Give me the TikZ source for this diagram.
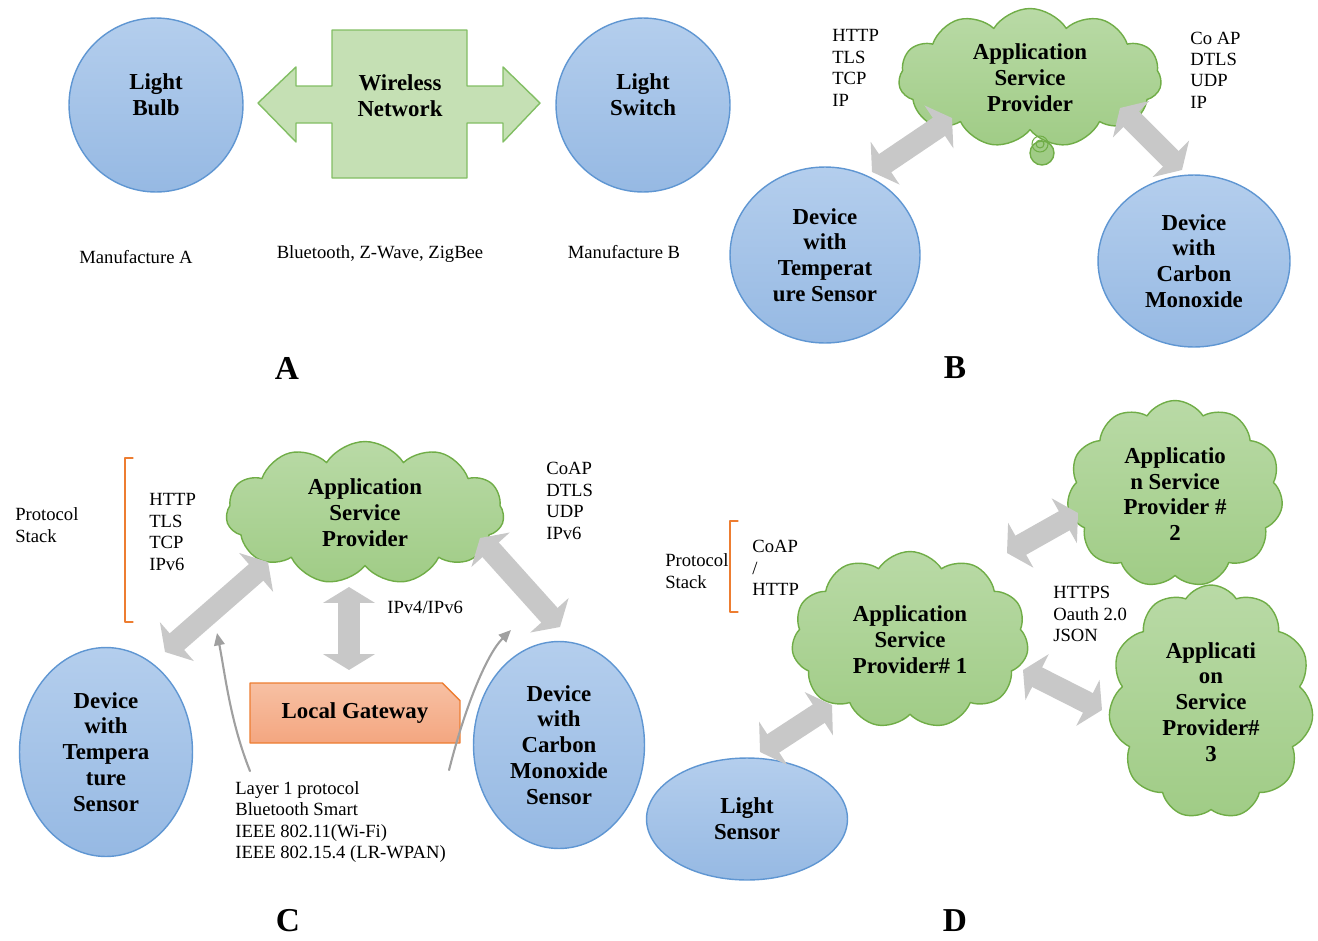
\documentclass[tikz,border=0pt]{standalone}
\usepackage{fontspec}
\setmainfont{Liberation Serif}
\usetikzlibrary{shapes.geometric,shapes.symbols,shapes.misc,arrows.meta,calc}
\definecolor{bluetop}{RGB}{180,206,237}
\definecolor{bluebot}{RGB}{150,185,227}
\definecolor{bluedraw}{RGB}{95,150,210}
\definecolor{greentop}{RGB}{185,218,166}
\definecolor{greenbot}{RGB}{160,204,134}
\definecolor{greendraw}{RGB}{112,173,71}
\definecolor{wnetfill}{RGB}{197,224,180}
\definecolor{wnetdraw}{RGB}{130,190,100}
\definecolor{fatgray}{RGB}{200,200,200}
\definecolor{curvegray}{RGB}{160,160,160}
\definecolor{orangedraw}{RGB}{237,125,49}
\definecolor{gatetop}{RGB}{247,192,163}
\definecolor{gatebot}{RGB}{244,166,128}

\begin{document}
\begin{tikzpicture}[x=0.02cm, y=-0.02cm, line join=round, line cap=round,
	txt/.style={font=\fontsize{10.6}{12.2}\selectfont, align=left, inner sep=0pt},
	boldtxt/.style={font=\fontsize{13}{14.7}\selectfont\bfseries, align=center, inner sep=0pt},
	letter/.style={font=\fontsize{19}{22}\selectfont\bfseries, inner sep=0pt},
	bubble/.style={ellipse, draw=bluedraw, line width=0.8pt, top color=bluetop, bottom color=bluebot, boldtxt},
	puff/.style={cloud, cloud puffs=11, cloud puff arc=115, cloud ignores aspect, draw=greendraw, line width=0.8pt, top color=greentop, bottom color=greenbot, boldtxt},
	gateway/.style={chamfered rectangle, chamfered rectangle corners=north east, chamfered rectangle xsep=5pt, chamfered rectangle ysep=5pt, draw=orangedraw, line width=0.8pt, top color=gatetop, bottom color=gatebot, boldtxt},
	fatarrow/.style={line width=12.5pt, draw=fatgray, line cap=butt, {Triangle[width=29pt,length=9pt]}-{Triangle[width=29pt,length=9pt]}},
	curvearrow/.style={draw=curvegray, line width=1.2pt, -{Triangle[width=6pt,length=7pt]}},
	stackbrace/.style={draw=orangedraw, line width=0.7pt}]
	\useasboundingbox (0,0) rectangle (1318,940);

	% A
	\node[bubble, minimum width=3.48cm, minimum height=3.48cm, label={[boldtxt, yshift=0.2cm]center:{Light\\Bulb}}] (bulb) at (156,105) {};
	\node[bubble, minimum width=3.48cm, minimum height=3.48cm, label={[boldtxt, yshift=0.2cm]center:{Light\\Switch}}] (switch) at (643,105) {};
	\filldraw[draw=wnetdraw, fill=wnetfill, line width=0.8pt] (258,103) -- (296,67) -- (296,86) -- (332,86) -- (332,30) -- (467,30) -- (467,86) -- (503,86) -- (503,67) -- (540,103) -- (503,142) -- (503,123) -- (467,123) -- (467,178) -- (332,178) -- (332,123) -- (296,123) -- (296,142) -- cycle;
	\node[boldtxt] (wnet) at (400,96) {Wireless\\Network};
	\node[txt] (manA) at (136,257) {Manufacture A};
	\node[txt] (radio) at (380,254) {Bluetooth, Z-Wave, ZigBee};
	\node[txt] (manB) at (624,252) {Manufacture B};
	\node[letter] (labA) at (287,368) {A};

	% B
	\node[puff, minimum width=5.26cm, minimum height=2.78cm] (aspB) at (1030,78) {Application\\Service\\Provider};
	\filldraw[draw=greendraw, fill=greenbot, line width=0.8pt] (1042,153) circle[radius=0.24cm];
	\draw[draw=greendraw, line width=0.6pt] (1040,144) circle[radius=0.16cm] (1040,144) circle[radius=0.08cm];
	\node[txt, anchor=west] (stkB1) at (832,68) {HTTP\\TLS\\TCP\\IP};
	\node[txt, anchor=west] (stkB2) at (1190,70) {Co AP\\DTLS\\UDP\\IP};
	\node[bubble, minimum width=3.8cm, minimum height=3.52cm] (tempB) at (825,255) {Device\\with\\Temperat\\ure Sensor};
	\node[bubble, minimum width=3.84cm, minimum height=3.44cm] (coB) at (1194,261) {Device\\with\\Carbon\\Monoxide};
	\draw[fatarrow] ($(tempB)+(47,-83)$) -- ($(aspB)+(-78,40)$);
	\draw[fatarrow] ($(aspB)+(90,30)$) -- ($(coB)+(-12,-91)$);
	\node[letter] (labB) at (955,368) {B};

	% C
	\node[puff, minimum width=5.56cm, minimum height=2.86cm] (aspC) at (365,513) {Application\\Service\\Provider};
	\draw[stackbrace] (133,458) -- (125,458) -- (125,622) -- (133,622);
	\node[txt, anchor=west] (psC) at (15,525) {Protocol\\Stack};
	\node[txt, anchor=west] (stkC1) at (149,532) {HTTP\\TLS\\TCP\\IPv6};
	\node[txt, anchor=west] (stkC2) at (546,501) {CoAP\\DTLS\\UDP\\IPv6};
	\node[bubble, minimum width=3.46cm, minimum height=4.18cm] (tempC) at (106,752) {Device\\with\\Tempera\\ture\\Sensor};
	\node[bubble, minimum width=3.42cm, minimum height=4.14cm] (coC) at (559,745) {Device\\with\\Carbon\\Monoxide\\Sensor};
	\node[gateway, minimum width=4.2cm, minimum height=1.2cm] (gate) at (355,713) {Local Gateway};
	\node[txt, anchor=west] (ipv) at (387,607) {IPv4/IPv6};
	\node[txt, anchor=west] (layer) at (235,822) {Layer 1 protocol\\Bluetooth Smart\\IEEE 802.11(Wi-Fi)\\IEEE 802.15.4 (LR-WPAN)};
	\draw[fatarrow] ($(tempC)+(59,-100)$) -- ($(aspC)+(-97,49)$);
	\draw[fatarrow] ($(aspC)+(115,25)$) -- ($(coC)+(1,-118)$);
	\draw[fatarrow] ($(aspC)+(-16,74)$) -- ($(gate)+(-6,-43)$);
	\coordinate (upL) at (217,633);
	\coordinate (upR) at (511,630);
	\draw[curvearrow] ($(layer.north west)+(15,-10)$) .. controls +(-20,-50) and +(8,40) .. (upL);
	\draw[curvearrow] ($(layer.north east)+(3,-11)$) .. controls +(15,-60) and +(-25,25) .. (upR);
	\node[letter] (labC) at (288,921) {C};

	% D
	\node[puff, minimum width=4.74cm, minimum height=3.54cm] (aspD1) at (910,640) {Application\\Service\\Provider\# 1};
	\node[puff, minimum width=4.32cm, minimum height=3.74cm] (aspD2) at (1175,494) {Applicatio\\n Service\\Provider \#\\2};
	\node[puff, minimum width=4.1cm, minimum height=4.68cm] (aspD3) at (1211,702) {Applicati\\on\\Service\\Provider\#\\3};
	\node[bubble, minimum width=4.02cm, minimum height=2.44cm] (lightS) at (747,819) {Light\\Sensor};
	\draw[stackbrace] (738,521) -- (730,521) -- (730,612) -- (738,612);
	\node[txt, anchor=west] (psD) at (665,571) {Protocol\\Stack};
	\node[txt, anchor=west] (stkD) at (752,568) {CoAP\\/\\HTTP};
	\node[txt, anchor=west] (webD) at (1053,614) {HTTPS\\Oauth 2.0\\JSON};
	\draw[fatarrow] ($(lightS)+(13,-67)$) -- ($(aspD1)+(-78,65)$);
	\draw[fatarrow] ($(aspD1)+(97,-87)$) -- ($(aspD2)+(-97,19)$);
	\draw[fatarrow] ($(aspD1)+(113,30)$) -- ($(aspD3)+(-109,8)$);
	\node[letter] (labD) at (955,921) {D};
\end{tikzpicture}
\end{document}
